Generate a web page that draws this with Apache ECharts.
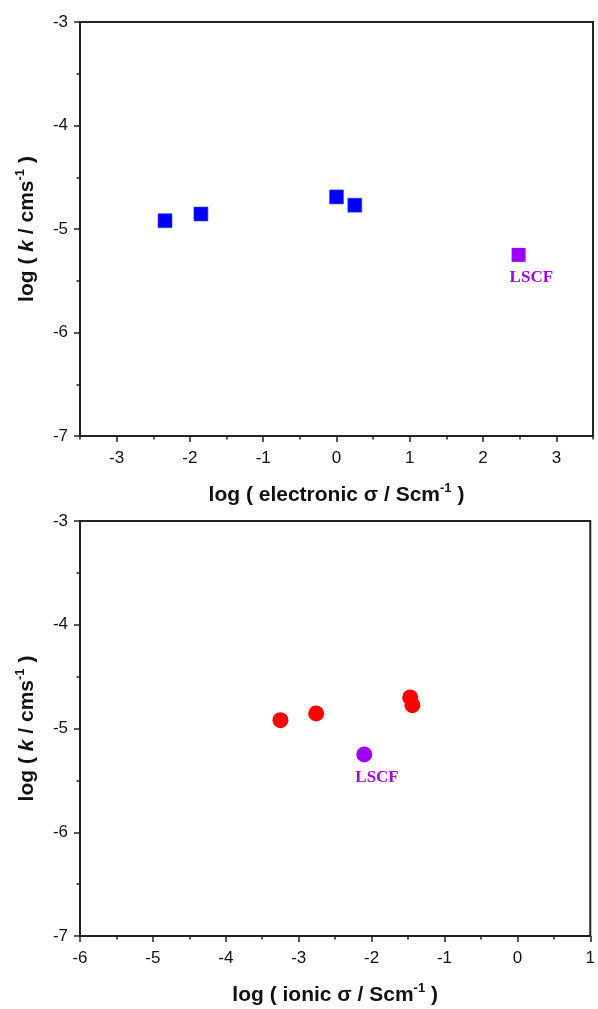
<!DOCTYPE html>
<html><head><meta charset="utf-8">
<script src="https://cdn.jsdelivr.net/npm/echarts@6/dist/echarts.min.js"></script>
<style>html,body{margin:0;padding:0;background:#fff}#c{width:598px;height:1009px}</style>
</head><body><div id="c"></div>
<script>
// ---- data ----
const topX = [-2.34, -1.85, 0.0, 0.25];          // log electronic sigma
const topY = [-4.92, -4.855, -4.69, -4.77];      // log k
const topLscfX = [2.485];
const topLscfY = [-5.25];
const botX = [-3.25, -2.76, -1.47, -1.44];       // log ionic sigma
const botY = [-4.92, -4.855, -4.70, -4.775];
const botLscfX = [-2.10];
const botLscfY = [-5.25];
const topXTicks = [-3, -2, -1, 0, 1, 2, 3];
const topXMinor = [-3.5, -2.5, -1.5, -0.5, 0.5, 1.5, 2.5, 3.5];
const lscfLabel = 'LSCF';

// ---- styles ----
const AX = '#222';
const FONT = '"Liberation Sans", Arial, sans-serif';
const PURPLE = '#A000FF';
const nameRich = {
  n: { fontFamily: FONT, fontSize: 21, fontWeight: 'bold', color: '#111' },
  i: { fontFamily: FONT, fontSize: 21, fontWeight: 'bold', fontStyle: 'italic', color: '#111' },
  sup: { fontFamily: FONT, fontSize: 13, fontWeight: 'bold', color: '#111', verticalAlign: 'top', padding: [0, 0, 13, 0] }
};
const yName = '{n|log ( }{i|k}{n| / cms}{sup|-1}{n| )}';
const axisLabelStyle = { fontFamily: FONT, fontSize: 17, color: '#111' };

function yAxis(g) {
  return {
    gridIndex: g, type: 'value', min: -7, max: -3, interval: 1, position: 'left',
    name: yName, nameLocation: 'middle', nameGap: 40, nameRotate: 90,
    nameTextStyle: { rich: nameRich },
    axisLine: { show: true, onZero: false, lineStyle: { color: AX, width: 2 } },
    axisTick: { show: true, length: 6, lineStyle: { color: AX, width: 1.5 } },
    minorTick: { show: true, splitNumber: 2, length: 3.5, lineStyle: { color: AX, width: 1.5 } },
    axisLabel: Object.assign({ margin: 12 }, axisLabelStyle),
    splitLine: { show: false }
  };
}

const pairs = (xs, ys) => xs.map((x, i) => [x, ys[i]]);
const lscfLabelStyle = {
  show: true, formatter: lscfLabel, position: 'bottom', align: 'left', offset: [-9, 2],
  fontFamily: '"Liberation Serif", "Times New Roman", serif', fontWeight: 'bold', fontSize: 17, color: PURPLE
};

const option = {
  animation: false,
  backgroundColor: '#fff',
  grid: [
    { left: 80, top: 22, width: 513, height: 414, show: true, borderColor: AX, borderWidth: 2, backgroundColor: 'transparent' },
    { left: 80, top: 521, width: 514, height: 415, show: true, borderColor: AX, borderWidth: 2, backgroundColor: 'transparent' }
  ],
  xAxis: [
    {
      gridIndex: 0, type: 'value', min: -3.5, max: 3.5, position: 'bottom',
      name: '{n|log ( electronic σ / Scm}{sup|-1}{n| )}', nameLocation: 'middle', nameGap: 46,
      nameTextStyle: { rich: nameRich },
      axisLine: { show: true, onZero: false, lineStyle: { color: AX, width: 2 } },
      axisTick: { show: true, length: 6, customValues: topXTicks, lineStyle: { color: AX, width: 1.5 } },
      axisLabel: Object.assign({ margin: 14, customValues: topXTicks }, axisLabelStyle),
      splitLine: { show: false }
    },
    {
      gridIndex: 0, type: 'value', min: -3.5, max: 3.5, position: 'bottom',
      axisLine: { show: false, onZero: false },
      axisTick: { show: true, length: 3.5, customValues: topXMinor, lineStyle: { color: AX, width: 1.5 } },
      axisLabel: { show: false },
      splitLine: { show: false }
    },
    {
      gridIndex: 1, type: 'value', min: -6, max: 1, interval: 1, position: 'bottom',
      name: '{n|log ( ionic σ / Scm}{sup|-1}{n| )}', nameLocation: 'middle', nameGap: 46,
      nameTextStyle: { rich: nameRich },
      axisLine: { show: true, onZero: false, lineStyle: { color: AX, width: 2 } },
      axisTick: { show: true, length: 6, lineStyle: { color: AX, width: 1.5 } },
      minorTick: { show: true, splitNumber: 2, length: 3.5, lineStyle: { color: AX, width: 1.5 } },
      axisLabel: Object.assign({ margin: 14 }, axisLabelStyle),
      splitLine: { show: false }
    }
  ],
  yAxis: [yAxis(0), yAxis(1)],
  series: [
    {
      type: 'scatter', xAxisIndex: 0, yAxisIndex: 0, symbol: 'rect', symbolSize: 14,
      itemStyle: { color: '#0000FF', opacity: 1, borderColor: '#3a4cff', borderWidth: 0.6 },
      data: pairs(topX, topY)
    },
    {
      type: 'scatter', xAxisIndex: 0, yAxisIndex: 0, symbol: 'rect', symbolSize: 14,
      itemStyle: { color: PURPLE, opacity: 1 },
      label: lscfLabelStyle,
      data: pairs(topLscfX, topLscfY)
    },
    {
      type: 'scatter', xAxisIndex: 2, yAxisIndex: 1, symbol: 'circle', symbolSize: 16,
      itemStyle: { color: '#FF0000', opacity: 1 },
      data: pairs(botX, botY)
    },
    {
      type: 'scatter', xAxisIndex: 2, yAxisIndex: 1, symbol: 'circle', symbolSize: 16,
      itemStyle: { color: PURPLE, opacity: 1 },
      label: lscfLabelStyle,
      data: pairs(botLscfX, botLscfY)
    }
  ]
};
const chart = echarts.init(document.getElementById('c'), null, { renderer: 'canvas' });
chart.setOption(option);
</script>
</body></html>
